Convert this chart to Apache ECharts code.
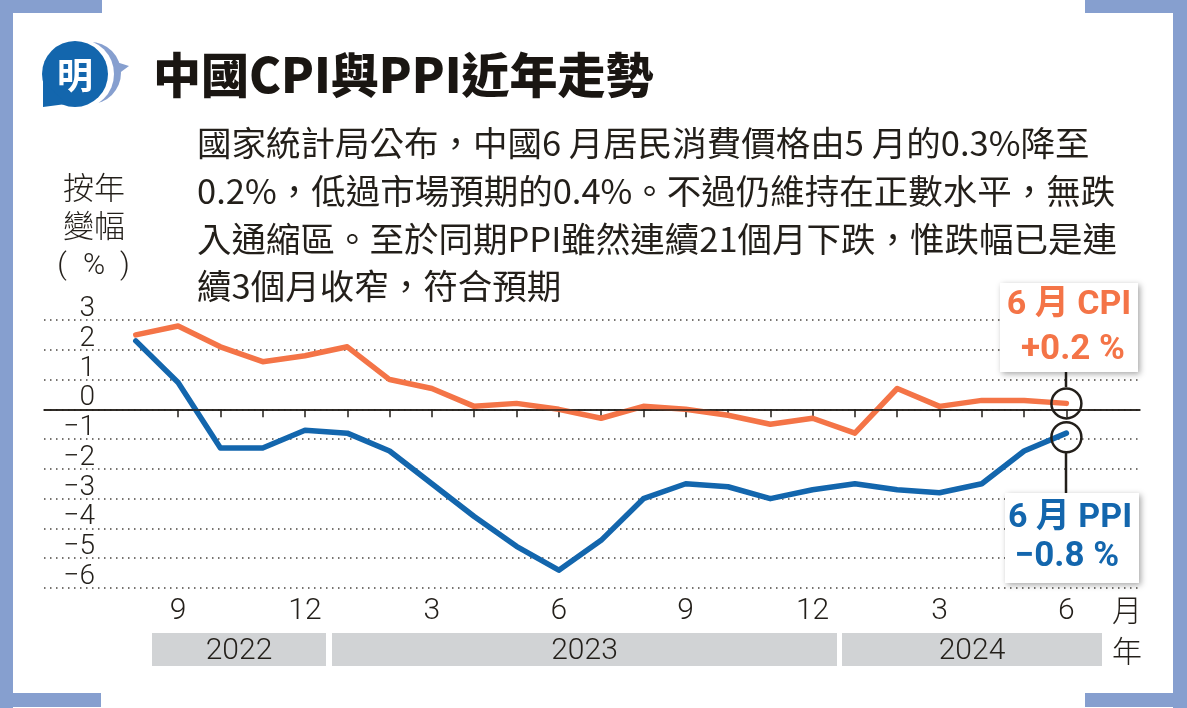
<!DOCTYPE html>
<html>
<head>
<meta charset="utf-8">
<script src="https://cdn.jsdelivr.net/npm/echarts@6/dist/echarts.min.js"></script>
<style>
html,body{margin:0;padding:0;background:#fff;}
#chart{width:1187px;height:708px;}
</style>
</head>
<body>
<div id="chart"></div>
<script>
// ---- data ----
const categories = ['8','9','10','11','12','1','2','3','4','5','6','7','8','9','10','11','12','1','2','3','4','5','6'];
const cpi = [2.5,2.8,2.1,1.6,1.8,2.1,1.0,0.7,0.1,0.2,0.0,-0.3,0.1,0.0,-0.2,-0.5,-0.3,-0.8,0.7,0.1,0.3,0.3,0.2];
const ppi = [2.3,0.9,-1.3,-1.3,-0.7,-0.8,-1.4,-2.5,-3.6,-4.6,-5.4,-4.4,-3.0,-2.5,-2.6,-3.0,-2.7,-2.5,-2.7,-2.8,-2.5,-1.4,-0.8];
const labeledMonths = [1,4,7,10,13,16,19,22];
const tickMonths = [1,2,3,4,5,6,7,8,9,10,11,12,13,14,15,16,17,18,19,20,21,22];
const years = ['2022','2023','2024'];
const titleText = '中國CPI與PPI近年走勢';
const paragraph = [
  '國家統計局公布，中國6 月居民消費價格由5 月的0.3%降至',
  '0.2%，低過市場預期的0.4%。不過仍維持在正數水平，無跌',
  '入通縮區。至於同期PPI雖然連續21個月下跌，惟跌幅已是連',
  '續3個月收窄，符合預期'
];
const cpiNote = ['6 月 CPI', '+0.2 %'];
const ppiNote = ['6 月 PPI', '−0.8 %'];

const ORANGE = '#f47447';
const BLUE = '#1366ad';
const DARK = '#231f1a';
const FRAME = '#869fcf';
const FONT = 'Roboto, "Noto Sans CJK TC", sans-serif';
const CJK = '"Noto Sans CJK TC", sans-serif';

const chart = echarts.init(document.getElementById('chart'));

const graphics = [];
// frame
[[0,0,13,708],[1173,0,14,708],[0,0,102,13],[1085,0,102,13],[0,693,101,14],[1085,693,102,14]].forEach(r=>{
  graphics.push({type:'rect',shape:{x:r[0],y:r[1],width:r[2],height:r[3]},style:{fill:FRAME},silent:true});
});
// logo
graphics.push({type:'circle',shape:{cx:90,cy:73,r:31},style:{fill:FRAME}});
graphics.push({type:'polygon',shape:{points:[[110,60],[129,66],[110,80]]},style:{fill:FRAME}});
graphics.push({type:'circle',shape:{cx:79,cy:74,r:35},style:{fill:'#fff'}});
graphics.push({type:'circle',shape:{cx:75,cy:74,r:33},style:{fill:BLUE}});
graphics.push({type:'polygon',shape:{points:[[43,80],[43,107],[66,104]]},style:{fill:BLUE}});
graphics.push({type:'text',x:75,y:75,style:{text:'明',font:'bold 36px '+CJK,fill:'#fff',align:'center',verticalAlign:'middle'}});
// title
graphics.push({type:'text',x:153,y:75,style:{text:titleText,font:'900 48px '+CJK,fill:'#1a1612',align:'left',verticalAlign:'middle'}});
// paragraph
paragraph.forEach((t,i)=>{
  graphics.push({type:'text',x:197,y:143+i*47.7,style:{text:t,font:'34.5px '+CJK,fill:DARK,align:'left',verticalAlign:'middle'}});
});
// y axis title
graphics.push({type:'text',x:94,y:187,style:{text:'按年',font:'300 31px '+CJK,fill:DARK,align:'center',verticalAlign:'middle'}});
graphics.push({type:'text',x:94,y:225,style:{text:'變幅',font:'300 31px '+CJK,fill:DARK,align:'center',verticalAlign:'middle'}});
graphics.push({type:'text',x:62,y:266,style:{text:'(',font:'300 30px '+FONT,fill:DARK,align:'center',verticalAlign:'middle'}});
graphics.push({type:'text',x:94,y:266,style:{text:'%',font:'300 30px '+FONT,fill:DARK,align:'center',verticalAlign:'middle'}});
graphics.push({type:'text',x:125,y:266,style:{text:')',font:'300 30px '+FONT,fill:DARK,align:'center',verticalAlign:'middle'}});
// year bands
const bands = [[152,326],[332,837],[842,1102]];
bands.forEach((b,i)=>{
  graphics.push({type:'rect',shape:{x:b[0],y:633,width:b[1]-b[0],height:33},style:{fill:'#d1d3d5'}});
  graphics.push({type:'text',x:(b[0]+b[1])/2,y:651,style:{text:years[i],font:'300 30px '+FONT,fill:DARK,align:'center',verticalAlign:'middle'}});
});
graphics.push({type:'text',x:1127,y:610,style:{text:'月',font:'300 30px '+CJK,fill:DARK,align:'center',verticalAlign:'middle'}});
graphics.push({type:'text',x:1127,y:651,style:{text:'年',font:'300 30px '+CJK,fill:DARK,align:'center',verticalAlign:'middle'}});
// connectors
graphics.push({type:'line',shape:{x1:1066,y1:372,x2:1066,y2:387},style:{stroke:DARK,lineWidth:2.5},z:10});
graphics.push({type:'line',shape:{x1:1066,y1:452,x2:1066,y2:493},style:{stroke:DARK,lineWidth:2.5},z:10});
// annotation boxes
graphics.push({type:'rect',shape:{x:1000,y:283,width:138,height:89},style:{fill:'#fff',shadowBlur:6,shadowColor:'rgba(0,0,0,0.35)',shadowOffsetX:2,shadowOffsetY:2},z:20});
graphics.push({type:'text',x:1069,y:305,style:{text:cpiNote[0],font:'bold 34px '+FONT,fill:ORANGE,align:'center',verticalAlign:'middle'},z:21});
graphics.push({type:'text',x:1073,y:350,style:{text:cpiNote[1],font:'bold 35px '+FONT,fill:ORANGE,align:'center',verticalAlign:'middle'},z:21});
graphics.push({type:'rect',shape:{x:1005,y:493,width:134,height:90},style:{fill:'#fff',shadowBlur:6,shadowColor:'rgba(0,0,0,0.35)',shadowOffsetX:2,shadowOffsetY:2},z:20});
graphics.push({type:'text',x:1070,y:518,style:{text:ppiNote[0],font:'bold 34px '+FONT,fill:BLUE,align:'center',verticalAlign:'middle'},z:21});
graphics.push({type:'text',x:1067,y:557,style:{text:ppiNote[1],font:'bold 35px '+FONT,fill:BLUE,align:'center',verticalAlign:'middle'},z:21});

const option = {
  animation:false,
  backgroundColor:'#fff',
  grid:{left:44,right:47,top:320,bottom:120,containLabel:false},
  xAxis:{
    type:'value', min:-2.17, max:23.74,
    axisLine:{show:true,lineStyle:{color:DARK,width:1.6}},
    axisTick:{show:true,customValues:tickMonths,length:8,lineStyle:{color:DARK,width:1.5}},
    axisLabel:{customValues:labeledMonths,formatter:v=>categories[v],fontSize:30,fontFamily:FONT,fontWeight:300,color:DARK,margin:8},
    splitLine:{show:false}
  },
  yAxis:{
    type:'value', min:-6, max:3, interval:1,
    axisLine:{show:false}, axisTick:{show:false},
    axisLabel:{inside:true,margin:51,align:'right',verticalAlign:'bottom',fontSize:28,fontFamily:FONT,fontWeight:300,color:DARK,
      padding:[0,0,-3,0],
      formatter:v=> v<0 ? '−'+Math.abs(v) : String(v)},
    splitLine:{show:true,lineStyle:{color:'#4a4540',width:1.5,type:[1.5,4.5]}}
  },
  series:[
    {type:'line',name:'PPI',data:ppi.map((v,i)=>[i,v]),showSymbol:false,symbol:'none',
     lineStyle:{color:BLUE,width:5.5,cap:'round',join:'round'},z:3,
     markPoint:{symbol:'circle',symbolSize:30,symbolOffset:[0,4],silent:true,
       itemStyle:{color:'rgba(255,255,255,0)',borderColor:DARK,borderWidth:2.5},label:{show:false},
       data:[{coord:[22,ppi[22]]}]}
    },
    {type:'line',name:'CPI',data:cpi.map((v,i)=>[i,v]),showSymbol:false,symbol:'none',
     lineStyle:{color:ORANGE,width:5.5,cap:'round',join:'round'},z:4,
     markLine:{silent:true,symbol:'none',label:{show:false},lineStyle:{color:DARK,width:1.6,type:'solid'},data:[{yAxis:0}]},
     markPoint:{symbol:'circle',symbolSize:30,silent:true,
       itemStyle:{color:'rgba(255,255,255,0)',borderColor:DARK,borderWidth:2.5},label:{show:false},
       data:[{coord:[22,cpi[22]]}]}
    }
  ],
  graphic:graphics
};
chart.setOption(option);
</script>
</body>
</html>
